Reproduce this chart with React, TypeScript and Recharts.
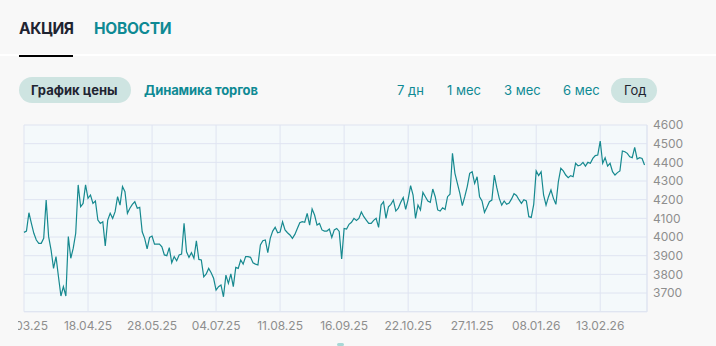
import React from "react";
import { CartesianGrid, Line, LineChart, XAxis, YAxis } from "recharts";

// closing prices, one per trading day
const price = [
  4025, 4032, 4130, 4073, 4020, 3984, 3966, 3966, 3993, 4198, 4002, 3930, 3832, 3895, 3787, 3684,
  3734, 3684, 4002, 3886, 3940, 4020, 4279, 4162, 4180, 4279, 4207, 4225, 4180, 4193, 4091, 4073,
  4082, 3952, 4091, 4127, 4100, 4136, 4216, 4171, 4270, 4243,
  4127, 4154, 4175, 4189, 4154, 4159, 4028, 3993, 3936, 3998, 4005, 3962, 3962, 3962, 3948, 3904,
  3900, 3943, 3862, 3895, 3873, 3904, 3909, 4073, 3921, 3891, 3916, 3886, 3980, 3880, 3877, 3787,
  3802, 3832, 3809, 3779, 3716, 3734, 3743, 3680, 3796,
  3752, 3802, 3734, 3837, 3832, 3877, 3855, 3895, 3895, 3891, 3862, 3855, 3850, 3957, 3980, 3984,
  3916, 3993, 4032, 4052, 4023, 4027, 4082, 4038, 4023, 4011, 3993, 4014, 4046, 4077, 4082,
  4079, 4127, 4064, 4150, 4118, 4064, 4073, 4038, 4032, 4032, 4043, 3998, 4038, 4046, 4030, 3882,
  4046, 4043, 4068, 4079, 4100, 4089, 4100, 4134, 4109, 4091, 4073, 4073, 4089, 4100, 4052, 4171,
  4189, 4100, 4162, 4175, 4198, 4139, 4154, 4186, 4211, 4148, 4202, 4275, 4225, 4100, 4171, 4145,
  4239, 4216, 4193, 4186, 4257, 4216, 4145, 4139, 4157, 4148, 4216, 4229, 4448, 4341, 4287, 4234,
  4168, 4216, 4270, 4341,
  4350, 4287, 4323, 4216, 4193, 4132, 4159, 4189, 4198, 4332, 4264, 4207, 4171, 4193, 4175, 4182,
  4204, 4232, 4223, 4200, 4180, 4200, 4193, 4109, 4105, 4175, 4354, 4329, 4350, 4225, 4171, 4216,
  4252, 4207, 4175, 4296, 4368, 4354, 4332, 4318, 4329, 4323, 4395, 4382, 4386, 4400, 4380, 4400,
  4395, 4421, 4436, 4439, 4514, 4395, 4425, 4380, 4395, 4350, 4332, 4345, 4354, 4461, 4457, 4448,
  4430, 4425, 4480, 4418, 4425, 4421, 4386,
];

const dateLabels = [
  "13.03.25", "18.04.25", "28.05.25", "04.07.25", "11.08.25",
  "16.09.25", "22.10.25", "27.11.25", "08.01.26", "13.02.26",
];
const tickStep = 26;
const priceTicks = [3600, 3700, 3800, 3900, 4000, 4100, 4200, 4300, 4400, 4500, 4600];

const periods = ["7 дн", "1 мес", "3 мес", "6 мес", "Год"];

const data = price.map((p, i) => ({ i, p }));
const xTicks = dateLabels.map((_, k) => k * tickStep);

const TEAL = "#0e8a94";
const DARK = "#1f2431";
const PILL = "#cee4e1";
const GRID = "#dfe4f1";
const FONT = "Inter, 'Noto Sans', sans-serif";

const abs = (s: React.CSSProperties): React.CSSProperties => ({ position: "absolute", ...s });

// left offsets of the period buttons' text
const periodX = [397, 447, 504, 563, 624];

export default function App() {
  return (
    <div
      style={abs({
        left: 0,
        top: 0,
        width: 716,
        height: 346,
        background: "#f8f8f8",
        overflow: "hidden",
        fontFamily: FONT,
      })}
    >
      <div style={abs({ left: 19, top: 19, fontSize: 15.5, fontWeight: 700, color: DARK, letterSpacing: -0.4 })}>
        АКЦИЯ
      </div>
      <div style={abs({ left: 94, top: 19, fontSize: 15.5, fontWeight: 700, color: TEAL, letterSpacing: -0.3 })}>
        НОВОСТИ
      </div>
      <div style={abs({ left: 0, top: 54, width: 716, height: 2, background: "#ffffff" })} />
      <div style={abs({ left: 19, top: 55, width: 54, height: 2, background: "#000" })} />

      <div style={abs({ left: 19, top: 77, width: 112, height: 26, borderRadius: 13, background: PILL })} />
      <div style={abs({ left: 31, top: 82, fontSize: 13, fontWeight: 700, color: DARK })}>График цены</div>
      <div style={abs({ left: 144, top: 82, fontSize: 13, fontWeight: 700, color: TEAL, letterSpacing: -0.1 })}>
        Динамика торгов
      </div>

      <div style={abs({ left: 611, top: 78, width: 46, height: 25, borderRadius: 13, background: PILL })} />
      {periods.map((p, k) => (
        <div
          key={p}
          style={abs({
            left: periodX[k],
            top: 82,
            fontSize: 13,
            color: k === periods.length - 1 ? DARK : TEAL,
          })}
        >
          {p}
        </div>
      ))}

      <div style={abs({ left: 18, top: 118, width: 698, height: 228, overflow: "hidden" })}>
        <LineChart width={698} height={228} data={data} margin={{ top: 7, right: 19, bottom: 4.3, left: 6 }}>
          <CartesianGrid stroke={GRID} fill="#f4f9fb" />
          <XAxis
            dataKey="i"
            type="number"
            domain={[0, 253]}
            ticks={xTicks}
            interval={0}
            tickFormatter={(v: number) => dateLabels[Math.round(v / tickStep)]}
            tickLine={false}
            tickSize={6}
            tickMargin={4}
            axisLine={{ stroke: GRID }}
            height={30}
            tick={{ fill: "#8e8e8e", fontSize: 12 }}
          />
          <YAxis
            orientation="right"
            domain={[3600, 4600]}
            ticks={priceTicks}
            interval={0}
            tickFormatter={(v: number) => (v === 3600 ? "" : String(v))}
            tickLine={false}
            tickSize={6}
            tickMargin={0}
            axisLine={{ stroke: GRID }}
            width={50}
            tick={{ fill: "#8e8e8e", fontSize: 12, textAnchor: "start" }}
          />
          <Line
            type="linear"
            dataKey="p"
            stroke="#16898f"
            strokeWidth={1.2}
            dot={false}
            isAnimationActive={false}
          />
        </LineChart>
      </div>

      <div style={abs({ left: 337, top: 343, width: 7, height: 3, borderRadius: 2, background: "#a8d8d6" })} />
    </div>
  );
}
